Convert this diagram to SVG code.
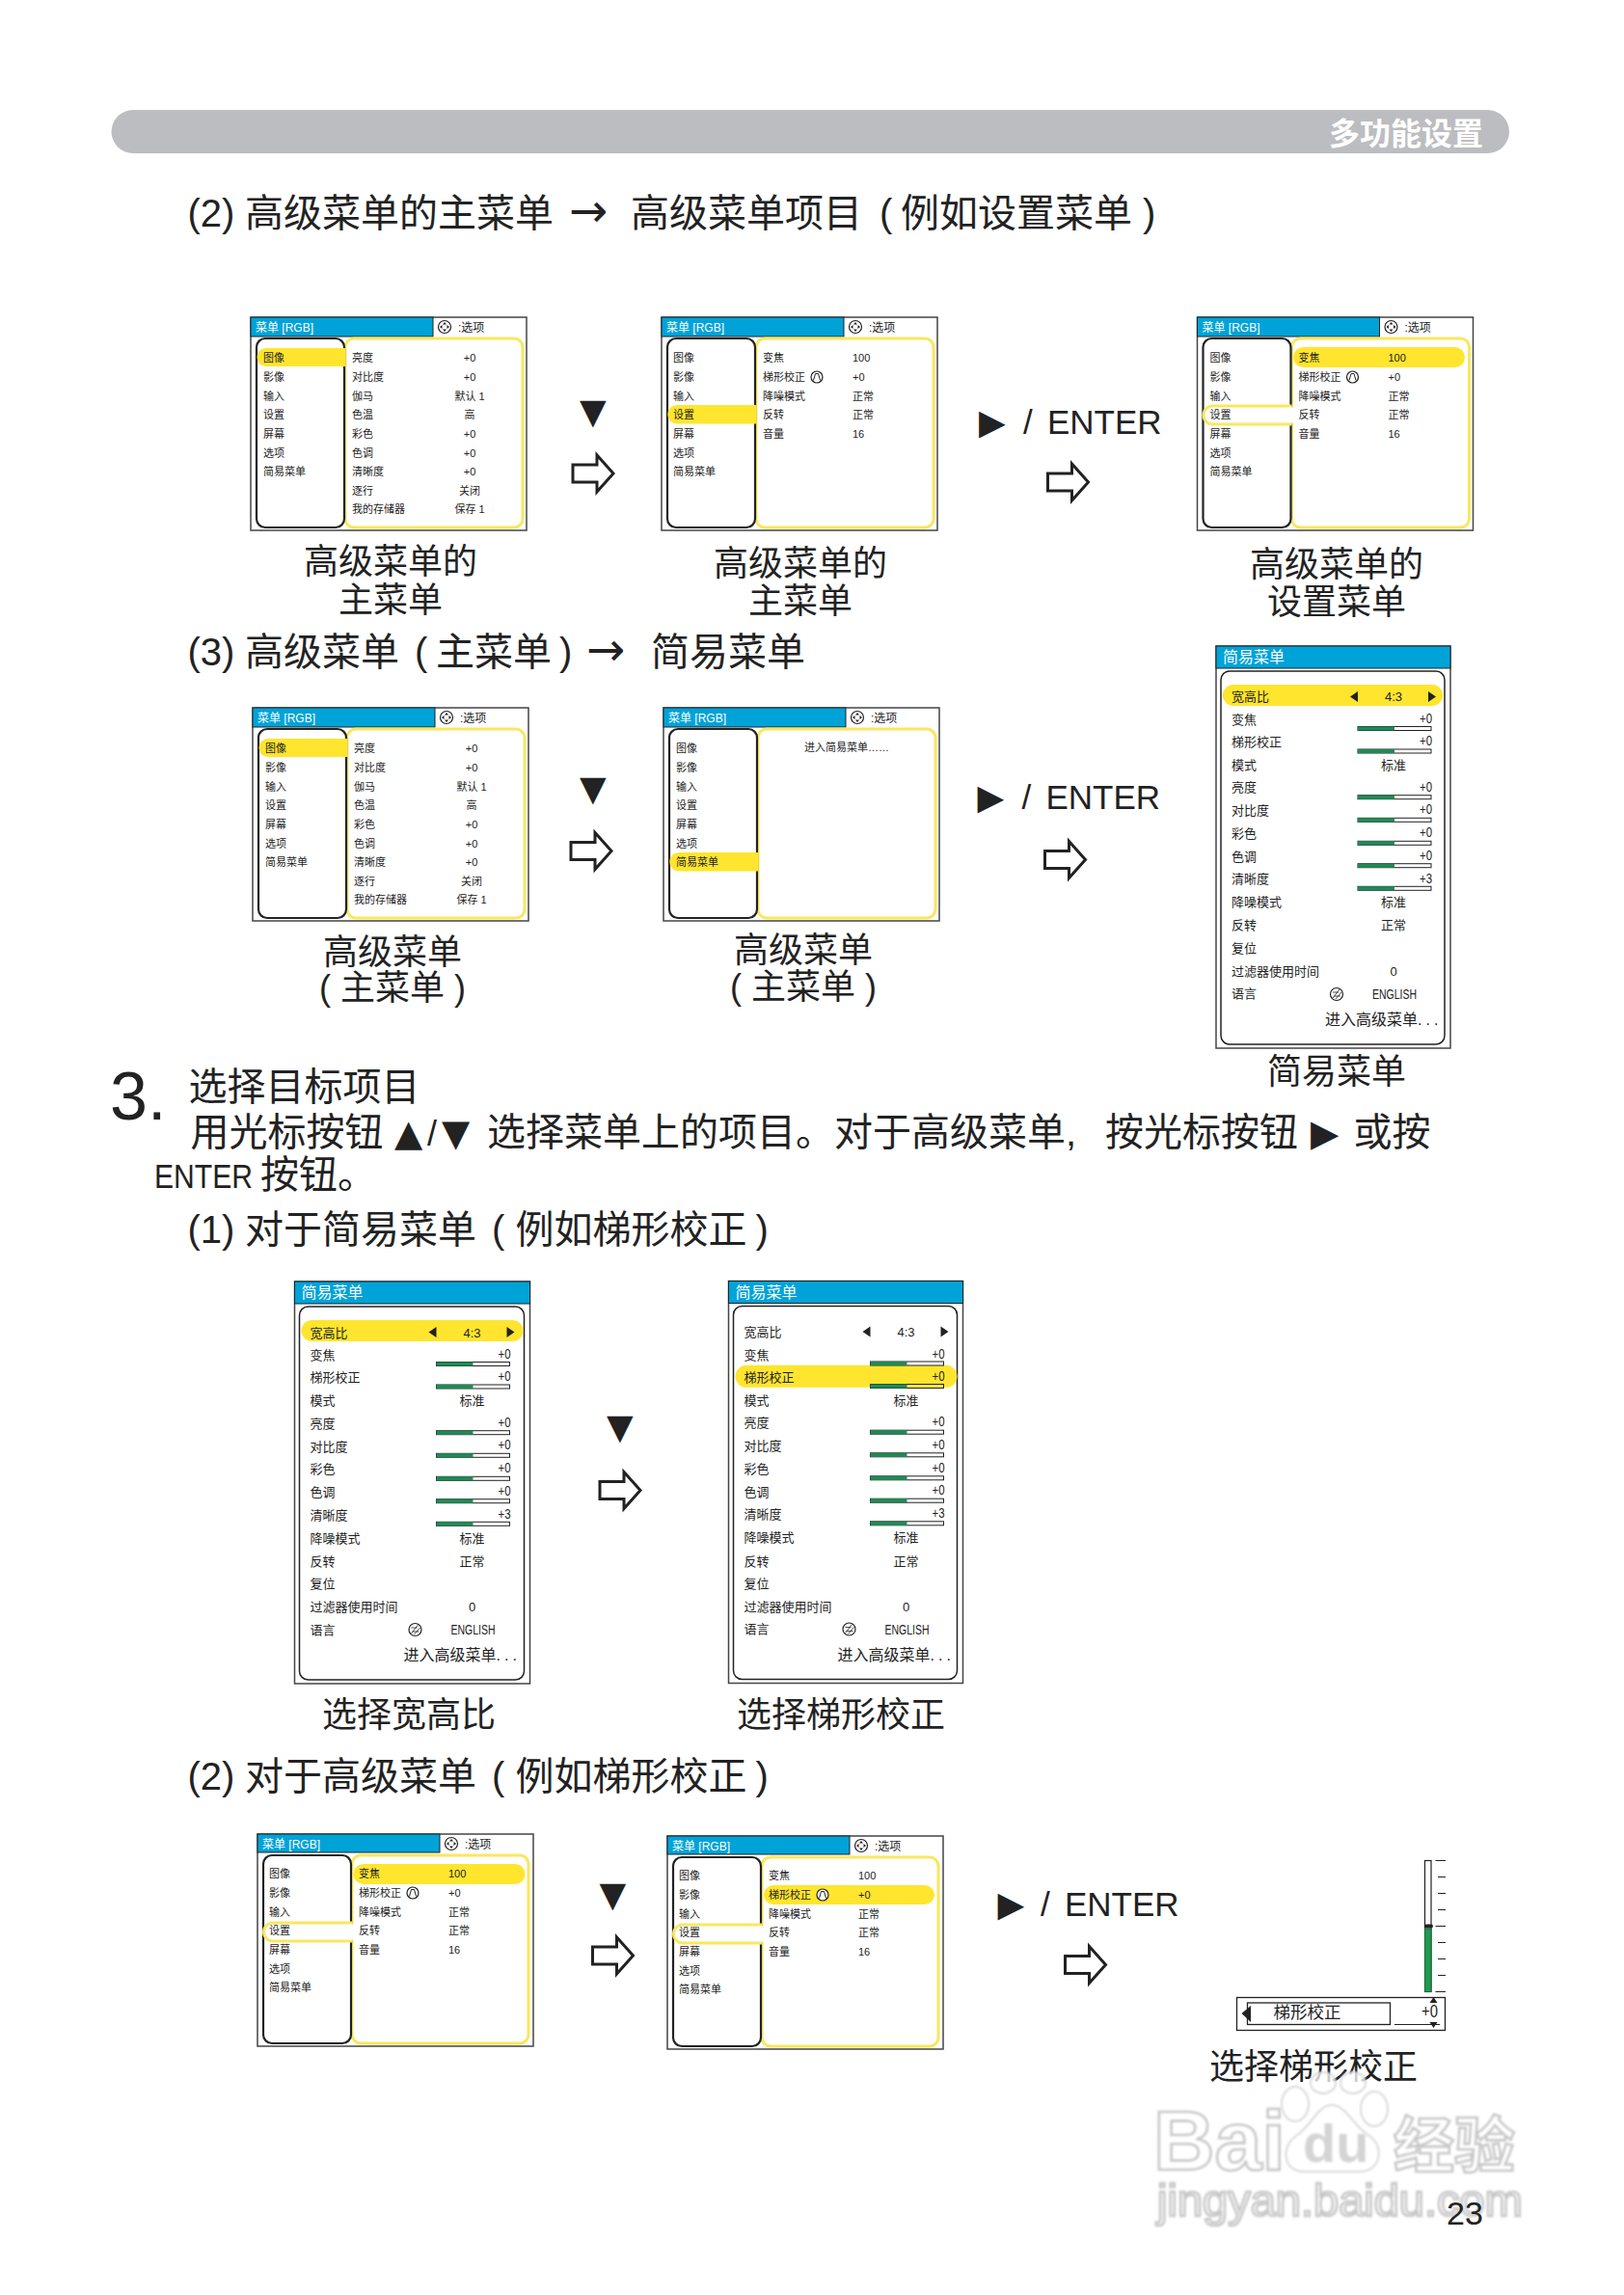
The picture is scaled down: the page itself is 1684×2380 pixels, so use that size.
<svg xmlns="http://www.w3.org/2000/svg" width="1684" height="2380" viewBox="0 0 1684 2380">
<style>
text{font-family:"Liberation Sans","Noto Sans CJK SC",sans-serif;fill:#222}
.h{font-size:40px}.c{font-size:36px;text-anchor:middle}
.s{font-family:"DejaVu Sans",sans-serif}
.t{font-size:12px;fill:#fff}.o{font-size:12px}
.i{font-size:11px}.v{font-size:11px;text-anchor:middle}
.q{font-size:13px}.r{font-size:13px;text-anchor:middle}.n{font-size:14px}
.bg{fill:#fff;stroke:#444;stroke-width:1.5}.tb{fill:#00a3d8;stroke:#222;stroke-width:1}
.lp{fill:#fff;stroke:#222;stroke-width:2.2}.rp{fill:#fff;stroke:#f9e75f;stroke-width:3}
.hl{fill:#ffe52e}.ol{fill:#fff;stroke:#f9e75f;stroke-width:3}
.sl{fill:#fff;stroke:#222;stroke-width:1}.gr{fill:#1f8a56}
.wm{fill:#fff;stroke:#c8c8c8;stroke-width:2.6;filter:url(#bl);font-weight:700}
</style>
<defs>
<path id="arrow" d="M2,12H27V2L44,21L27,40V30H2Z" fill="#fff" stroke="#222" stroke-width="3"/>
<g id="dpad"><circle r="6.5" fill="#fff" stroke="#222" stroke-width="1.2"/><path d="M0,-5L2,-2.5H-2ZM0,5L2,2.5H-2ZM-5,0L-2.5,-2V2ZM5,0L2.5,-2V2Z" fill="#222"/></g>
<g id="key"><circle r="6" fill="#fff" stroke="#222" stroke-width="1.2"/><path d="M-1.5,-3.5H1.5L3.5,3.5M-1.5,-3.5L-3.5,3.5" fill="none" stroke="#222"/></g>
<g id="globe"><circle r="6.5" fill="#fff" stroke="#222" stroke-width="1.2"/><path d="M-4,4L3,-5M-1,5L5,-2M-4,-2H2M-3,2H4" fill="none" stroke="#222" stroke-width=".8"/></g>
<filter id="bl" x="-5%" y="-5%" width="110%" height="110%"><feGaussianBlur stdDeviation="1"/></filter>
</defs>

<g id="header"><rect x="115.500" y="114" width="1449.500" height="45" rx="22.500" fill="#bcbdc0"/>
<text x="1378" y="150" font-size="32" font-weight="700" style="fill:#fff">多功能设置</text></g>

<text id="h2" class="h" y="235"><tspan x="194.500">(2)</tspan><tspan x="254">高级菜单的主菜单</tspan><tspan class="s" x="590" font-size="48">→</tspan><tspan x="654">高级菜单项目</tspan><tspan x="912">(</tspan><tspan x="934">例如设置菜单</tspan><tspan x="1185">)</tspan></text>

<g id="m1" transform="translate(260,329)">
<rect class="bg" width="286" height="221"/><rect class="tb" width="189" height="20"/>
<rect class="rp" x="98" y="22" width="184" height="196" rx="9"/><rect class="lp" x="6" y="22" width="91" height="196" rx="9"/>
<path class="hl" d="M16,32H98V51H16A9.500,9.500 0 0 1 16,32Z"/>
<text class="t" x="5" y="14.500">菜单 [RGB]</text><use href="#dpad" x="201" y="10"/><text class="o" x="215" y="14.500">:选项</text>
<text class="i" x="13" y="45.500">图像</text><text class="i" x="13" y="65.500">影像</text><text class="i" x="13" y="85.500">输入</text><text class="i" x="13" y="105">设置</text><text class="i" x="13" y="125">屏幕</text><text class="i" x="13" y="144.500">选项</text><text class="i" x="13" y="164">简易菜单</text>
<text class="i" x="105" y="45.500">亮度</text><text class="i" x="105" y="65.500">对比度</text><text class="i" x="105" y="85.500">伽马</text><text class="i" x="105" y="105">色温</text><text class="i" x="105" y="125">彩色</text><text class="i" x="105" y="144.500">色调</text><text class="i" x="105" y="164">清晰度</text><text class="i" x="105" y="184">逐行</text><text class="i" x="105" y="203">我的存储器</text>
<text class="v" x="227" y="45.500">+0</text><text class="v" x="227" y="65.500">+0</text><text class="v" x="227" y="85.500">默认 1</text><text class="v" x="227" y="105">高</text><text class="v" x="227" y="125">+0</text><text class="v" x="227" y="144.500">+0</text><text class="v" x="227" y="164">+0</text><text class="v" x="227" y="184">关闭</text><text class="v" x="227" y="203">保存 1</text>
</g>
<g id="m1c"><text class="c" x="405" y="594.500">高级菜单的</text><text class="c" x="405" y="634.500">主菜单</text></g>

<g id="m2" transform="translate(686,329)">
<rect class="bg" width="286" height="221"/><rect class="tb" width="189" height="20"/>
<rect class="rp" x="98" y="22" width="184" height="196" rx="9"/><rect class="lp" x="6" y="22" width="91" height="196" rx="9"/>
<path class="hl" d="M16,91H98V110.500H16A9.750,9.750 0 0 1 16,91Z"/>
<text class="t" x="5" y="14.500">菜单 [RGB]</text><use href="#dpad" x="201" y="10"/><text class="o" x="215" y="14.500">:选项</text>
<text class="i" x="12" y="45.500">图像</text><text class="i" x="12" y="65.500">影像</text><text class="i" x="12" y="85.500">输入</text><text class="i" x="12" y="105">设置</text><text class="i" x="12" y="125">屏幕</text><text class="i" x="12" y="144.500">选项</text><text class="i" x="12" y="164">简易菜单</text>
<text class="i" x="105" y="45.500">变焦</text><text class="i" x="105" y="65.500">梯形校正</text><use href="#key" x="161" y="62"/><text class="i" x="105" y="85.500">降噪模式</text><text class="i" x="105" y="105">反转</text><text class="i" x="105" y="125">音量</text>
<text class="i" x="198" y="45.500">100</text><text class="i" x="198" y="65.500">+0</text><text class="i" x="198" y="85.500">正常</text><text class="i" x="198" y="105">正常</text><text class="i" x="198" y="125">16</text>
</g>
<g id="m2c"><text class="c" x="830" y="596.500">高级菜单的</text><text class="c" x="830" y="635.500">主菜单</text></g>

<g id="m3" transform="translate(1241.500,329)">
<rect class="bg" width="286" height="221"/><rect class="tb" width="189" height="20"/>
<rect class="rp" x="98" y="22" width="184" height="196" rx="9"/><rect class="lp" x="6" y="22" width="91" height="196" rx="9"/>
<path class="ol" d="M98,92H16A9.500,9.500 0 0 0 16,111H98"/><rect x="95" y="93.500" width="5" height="16" fill="#fff"/>
<path class="hl" d="M110,31H267A10.500,10.500 0 0 1 267,52H110A10.500,10.500 0 0 1 110,31Z"/>
<text class="t" x="5" y="14.500">菜单 [RGB]</text><use href="#dpad" x="201" y="10"/><text class="o" x="215" y="14.500">:选项</text>
<text class="i" x="13" y="45.500">图像</text><text class="i" x="13" y="65.500">影像</text><text class="i" x="13" y="85.500">输入</text><text class="i" x="13" y="105">设置</text><text class="i" x="13" y="125">屏幕</text><text class="i" x="13" y="144.500">选项</text><text class="i" x="13" y="164">简易菜单</text>
<text class="i" x="105" y="45.500">变焦</text><text class="i" x="105" y="65.500">梯形校正</text><use href="#key" x="161" y="62"/><text class="i" x="105" y="85.500">降噪模式</text><text class="i" x="105" y="105">反转</text><text class="i" x="105" y="125">音量</text>
<text class="i" x="198" y="45.500">100</text><text class="i" x="198" y="65.500">+0</text><text class="i" x="198" y="85.500">正常</text><text class="i" x="198" y="105">正常</text><text class="i" x="198" y="125">16</text>
</g>
<g id="m3c"><text class="c" x="1386" y="597.500">高级菜单的</text><text class="c" x="1386" y="636.500">设置菜单</text></g>

<text id="h3" class="h" y="689.500"><tspan x="194.500">(3)</tspan><tspan x="254">高级菜单</tspan><tspan x="430">(</tspan><tspan x="452">主菜单</tspan><tspan x="580">)</tspan><tspan class="s" x="608" font-size="48">→</tspan><tspan x="675">简易菜单</tspan></text>

<g id="m4" transform="translate(262,734)">
<rect class="bg" width="286" height="221"/><rect class="tb" width="189" height="20"/>
<rect class="rp" x="98" y="22" width="184" height="196" rx="9"/><rect class="lp" x="6" y="22" width="91" height="196" rx="9"/>
<path class="hl" d="M16,32H98V51H16A9.500,9.500 0 0 1 16,32Z"/>
<text class="t" x="5" y="14.500">菜单 [RGB]</text><use href="#dpad" x="201" y="10"/><text class="o" x="215" y="14.500">:选项</text>
<text class="i" x="13" y="45.500">图像</text><text class="i" x="13" y="65.500">影像</text><text class="i" x="13" y="85.500">输入</text><text class="i" x="13" y="105">设置</text><text class="i" x="13" y="125">屏幕</text><text class="i" x="13" y="144.500">选项</text><text class="i" x="13" y="164">简易菜单</text>
<text class="i" x="105" y="45.500">亮度</text><text class="i" x="105" y="65.500">对比度</text><text class="i" x="105" y="85.500">伽马</text><text class="i" x="105" y="105">色温</text><text class="i" x="105" y="125">彩色</text><text class="i" x="105" y="144.500">色调</text><text class="i" x="105" y="164">清晰度</text><text class="i" x="105" y="184">逐行</text><text class="i" x="105" y="203">我的存储器</text>
<text class="v" x="227" y="45.500">+0</text><text class="v" x="227" y="65.500">+0</text><text class="v" x="227" y="85.500">默认 1</text><text class="v" x="227" y="105">高</text><text class="v" x="227" y="125">+0</text><text class="v" x="227" y="144.500">+0</text><text class="v" x="227" y="164">+0</text><text class="v" x="227" y="184">关闭</text><text class="v" x="227" y="203">保存 1</text>
</g>
<g id="m4c"><text class="c" x="407" y="999.500">高级菜单</text><text class="c" x="407" y="1037">( 主菜单 )</text></g>

<g id="m5" transform="translate(688,734)">
<rect class="bg" width="286" height="221"/><rect class="tb" width="189" height="20"/>
<rect class="rp" x="98" y="22" width="184" height="196" rx="9"/><rect class="lp" x="6" y="22" width="91" height="196" rx="9"/>
<path class="hl" d="M16,150H98V169.500H16A9.750,9.750 0 0 1 16,150Z"/>
<text class="t" x="5" y="14.500">菜单 [RGB]</text><use href="#dpad" x="201" y="10"/><text class="o" x="215" y="14.500">:选项</text>
<text class="i" x="13" y="45.500">图像</text><text class="i" x="13" y="65.500">影像</text><text class="i" x="13" y="85.500">输入</text><text class="i" x="13" y="105">设置</text><text class="i" x="13" y="125">屏幕</text><text class="i" x="13" y="144.500">选项</text><text class="i" x="13" y="164">简易菜单</text>
<text class="i" x="146" y="45">进入简易菜单……</text>
</g>
<g id="m5c"><text class="c" x="833" y="997.500">高级菜单</text><text class="c" x="833" y="1036">( 主菜单 )</text></g>

<g id="s1" transform="translate(1261,670)">
<rect class="bg" width="243" height="417"/><rect class="tb" width="243" height="23"/>
<text x="7" y="17" font-size="16" style="fill:#fff">简易菜单</text>
<rect x="5" y="26" width="232" height="387" rx="9" fill="#fff" stroke="#222" stroke-width="1.5"/>
<rect class="hl" x="7" y="40" width="228" height="22" rx="11"/>
<text class="q" x="16" y="56.500">宽高比</text><path d="M139,52.500L147,47V58ZM228,52.500L220,47V58Z" fill="#222"/><text class="r" x="184" y="56.500">4:3</text>
<text class="q" x="16" y="80.500">变焦</text><text class="n" x="211" y="80" textLength="13" lengthAdjust="spacingAndGlyphs">+0</text><rect class="sl" x="147" y="83.500" width="76" height="4"/><rect class="gr" x="147" y="83.500" width="38" height="4"/>
<text class="q" x="16" y="104">梯形校正</text><text class="n" x="211" y="103" textLength="13" lengthAdjust="spacingAndGlyphs">+0</text><rect class="sl" x="147" y="107" width="76" height="4"/><rect class="gr" x="147" y="107" width="38" height="4"/>
<text class="q" x="16" y="127.500">模式</text><text class="r" x="184" y="127.500">标准</text>
<text class="q" x="16" y="151">亮度</text><text class="n" x="211" y="150.700" textLength="13" lengthAdjust="spacingAndGlyphs">+0</text><rect class="sl" x="147" y="154.700" width="76" height="4"/><rect class="gr" x="147" y="154.700" width="38" height="4"/>
<text class="q" x="16" y="175">对比度</text><text class="n" x="211" y="174.300" textLength="13" lengthAdjust="spacingAndGlyphs">+0</text><rect class="sl" x="147" y="178.300" width="76" height="4"/><rect class="gr" x="147" y="178.300" width="38" height="4"/>
<text class="q" x="16" y="198.500">彩色</text><text class="n" x="211" y="198.300" textLength="13" lengthAdjust="spacingAndGlyphs">+0</text><rect class="sl" x="147" y="202.300" width="76" height="4"/><rect class="gr" x="147" y="202.300" width="38" height="4"/>
<text class="q" x="16" y="222.500">色调</text><text class="n" x="211" y="221.700" textLength="13" lengthAdjust="spacingAndGlyphs">+0</text><rect class="sl" x="147" y="225.700" width="76" height="4"/><rect class="gr" x="147" y="225.700" width="38" height="4"/>
<text class="q" x="16" y="246">清晰度</text><text class="n" x="211" y="245.700" textLength="13" lengthAdjust="spacingAndGlyphs">+3</text><rect class="sl" x="147" y="249.300" width="76" height="4"/><rect class="gr" x="147" y="249.300" width="38" height="4"/>
<text class="q" x="16" y="270">降噪模式</text><text class="r" x="184" y="270">标准</text>
<text class="q" x="16" y="294">反转</text><text class="r" x="184" y="294">正常</text>
<text class="q" x="16" y="317.500">复位</text>
<text class="q" x="16" y="341.500">过滤器使用时间</text><text class="r" x="184" y="341.500">0</text>
<text class="q" x="16" y="365">语言</text><use href="#globe" x="125" y="361"/><text class="n" x="162" y="366" textLength="46" lengthAdjust="spacingAndGlyphs">ENGLISH</text>
<text x="113" y="393" font-size="16">进入高级菜单<tspan letter-spacing="4">...</tspan></text>
</g>
<g id="s1c"><text class="c" x="1386" y="1124">简易菜单</text></g>

<g id="sec3">
<text x="114" y="1160.500" font-size="70">3.</text>
<text class="h" x="195.500" y="1140.500">选择目标项目</text>
<text class="h" y="1188"><tspan x="197.500">用光标按钮</tspan><tspan class="s" x="409" font-size="38">▲</tspan><tspan x="443" font-size="36">/</tspan><tspan class="s" x="458" font-size="38">▼</tspan><tspan x="505">选择菜单上的项目。</tspan><tspan x="865">对于高级菜单,</tspan><tspan x="1146">按光标按钮</tspan><tspan class="s" x="1359" font-size="38">▶</tspan><tspan x="1403.500">或按</tspan></text>
<text y="1232"><tspan x="160" font-size="35" textLength="102" lengthAdjust="spacingAndGlyphs">ENTER</tspan><tspan x="270" font-size="40">按钮。</tspan></text>
<text class="h" y="1289"><tspan x="194.500">(1)</tspan><tspan x="254">对于简易菜单</tspan><tspan x="510">(</tspan><tspan x="534.500">例如梯形校正</tspan><tspan x="783.500">)</tspan></text>
</g>

<g id="s2" transform="translate(305.500,1329)">
<rect class="bg" width="244" height="417"/><rect class="tb" width="244" height="23"/>
<text x="7" y="17" font-size="16" style="fill:#fff">简易菜单</text>
<rect x="5" y="26" width="233" height="387" rx="9" fill="#fff" stroke="#222" stroke-width="1.5"/>
<rect class="hl" x="7" y="40" width="230" height="22" rx="11"/>
<text class="q" x="16" y="57.700">宽高比</text><path d="M139,52.500L147,47V58ZM228,52.500L220,47V58Z" fill="#222"/><text class="r" x="184" y="57.700">4:3</text>
<text class="q" x="16" y="81">变焦</text><text class="n" x="211" y="80" textLength="13" lengthAdjust="spacingAndGlyphs">+0</text><rect class="sl" x="147" y="83.500" width="76" height="4"/><rect class="gr" x="147" y="83.500" width="38" height="4"/>
<text class="q" x="16" y="104.300">梯形校正</text><text class="n" x="211" y="103" textLength="13" lengthAdjust="spacingAndGlyphs">+0</text><rect class="sl" x="147" y="107" width="76" height="4"/><rect class="gr" x="147" y="107" width="38" height="4"/>
<text class="q" x="16" y="128.300">模式</text><text class="r" x="184" y="128.300">标准</text>
<text class="q" x="16" y="151.700">亮度</text><text class="n" x="211" y="150.700" textLength="13" lengthAdjust="spacingAndGlyphs">+0</text><rect class="sl" x="147" y="154.700" width="76" height="4"/><rect class="gr" x="147" y="154.700" width="38" height="4"/>
<text class="q" x="16" y="175.700">对比度</text><text class="n" x="211" y="174.300" textLength="13" lengthAdjust="spacingAndGlyphs">+0</text><rect class="sl" x="147" y="178.300" width="76" height="4"/><rect class="gr" x="147" y="178.300" width="38" height="4"/>
<text class="q" x="16" y="199">彩色</text><text class="n" x="211" y="198.300" textLength="13" lengthAdjust="spacingAndGlyphs">+0</text><rect class="sl" x="147" y="202.300" width="76" height="4"/><rect class="gr" x="147" y="202.300" width="38" height="4"/>
<text class="q" x="16" y="223">色调</text><text class="n" x="211" y="221.700" textLength="13" lengthAdjust="spacingAndGlyphs">+0</text><rect class="sl" x="147" y="225.700" width="76" height="4"/><rect class="gr" x="147" y="225.700" width="38" height="4"/>
<text class="q" x="16" y="246.700">清晰度</text><text class="n" x="211" y="245.700" textLength="13" lengthAdjust="spacingAndGlyphs">+3</text><rect class="sl" x="147" y="249.300" width="76" height="4"/><rect class="gr" x="147" y="249.300" width="38" height="4"/>
<text class="q" x="16" y="270.700">降噪模式</text><text class="r" x="184" y="270.700">标准</text>
<text class="q" x="16" y="295">反转</text><text class="r" x="184" y="295">正常</text>
<text class="q" x="16" y="318.300">复位</text>
<text class="q" x="16" y="342.300">过滤器使用时间</text><text class="r" x="184" y="342.300">0</text>
<text class="q" x="16" y="365.700">语言</text><use href="#globe" x="125" y="361"/><text class="n" x="162" y="366" textLength="46" lengthAdjust="spacingAndGlyphs">ENGLISH</text>
<text x="113" y="393" font-size="16">进入高级菜单<tspan letter-spacing="4">...</tspan></text>
</g>
<g id="s2c"><text class="c" x="424" y="1790.500">选择宽高比</text></g>

<g id="s3" transform="translate(755.500,1328.500)">
<rect class="bg" width="243" height="417"/><rect class="tb" width="243" height="23"/>
<text x="7" y="17" font-size="16" style="fill:#fff">简易菜单</text>
<rect x="5" y="26" width="232" height="387" rx="9" fill="#fff" stroke="#222" stroke-width="1.5"/>
<rect class="hl" x="7" y="87.300" width="230" height="23" rx="11.500"/>
<text class="q" x="16" y="57.700">宽高比</text><path d="M139,52.500L147,47V58ZM228,52.500L220,47V58Z" fill="#222"/><text class="r" x="184" y="57.700">4:3</text>
<text class="q" x="16" y="81">变焦</text><text class="n" x="211" y="80" textLength="13" lengthAdjust="spacingAndGlyphs">+0</text><rect class="sl" x="147" y="83.500" width="76" height="4"/><rect class="gr" x="147" y="83.500" width="38" height="4"/>
<text class="q" x="16" y="104.300">梯形校正</text><text class="n" x="211" y="103" textLength="13" lengthAdjust="spacingAndGlyphs">+0</text><rect class="sl" style="fill:#ffe52e" x="147" y="107" width="76" height="4"/><rect class="gr" x="147" y="107" width="38" height="4"/>
<text class="q" x="16" y="128.300">模式</text><text class="r" x="184" y="128.300">标准</text>
<text class="q" x="16" y="151.700">亮度</text><text class="n" x="211" y="150.700" textLength="13" lengthAdjust="spacingAndGlyphs">+0</text><rect class="sl" x="147" y="154.700" width="76" height="4"/><rect class="gr" x="147" y="154.700" width="38" height="4"/>
<text class="q" x="16" y="175.700">对比度</text><text class="n" x="211" y="174.300" textLength="13" lengthAdjust="spacingAndGlyphs">+0</text><rect class="sl" x="147" y="178.300" width="76" height="4"/><rect class="gr" x="147" y="178.300" width="38" height="4"/>
<text class="q" x="16" y="199">彩色</text><text class="n" x="211" y="198.300" textLength="13" lengthAdjust="spacingAndGlyphs">+0</text><rect class="sl" x="147" y="202.300" width="76" height="4"/><rect class="gr" x="147" y="202.300" width="38" height="4"/>
<text class="q" x="16" y="223">色调</text><text class="n" x="211" y="221.700" textLength="13" lengthAdjust="spacingAndGlyphs">+0</text><rect class="sl" x="147" y="225.700" width="76" height="4"/><rect class="gr" x="147" y="225.700" width="38" height="4"/>
<text class="q" x="16" y="246.700">清晰度</text><text class="n" x="211" y="245.700" textLength="13" lengthAdjust="spacingAndGlyphs">+3</text><rect class="sl" x="147" y="249.300" width="76" height="4"/><rect class="gr" x="147" y="249.300" width="38" height="4"/>
<text class="q" x="16" y="270.700">降噪模式</text><text class="r" x="184" y="270.700">标准</text>
<text class="q" x="16" y="295">反转</text><text class="r" x="184" y="295">正常</text>
<text class="q" x="16" y="318.300">复位</text>
<text class="q" x="16" y="342.300">过滤器使用时间</text><text class="r" x="184" y="342.300">0</text>
<text class="q" x="16" y="365.700">语言</text><use href="#globe" x="125" y="361"/><text class="n" x="162" y="366" textLength="46" lengthAdjust="spacingAndGlyphs">ENGLISH</text>
<text x="113" y="393" font-size="16">进入高级菜单<tspan letter-spacing="4">...</tspan></text>
</g>
<g id="s3c"><text class="c" x="872" y="1790.500">选择梯形校正</text></g>

<text id="h4" class="h" y="1855.500"><tspan x="194.500">(2)</tspan><tspan x="254">对于高级菜单</tspan><tspan x="510">(</tspan><tspan x="534.500">例如梯形校正</tspan><tspan x="783.500">)</tspan></text>

<g id="m6" transform="translate(267,1902)">
<rect class="bg" width="286" height="220"/><rect class="tb" width="189" height="19"/>
<rect class="rp" x="98" y="22" width="183" height="195" rx="9"/><rect class="lp" x="6" y="22" width="91" height="195" rx="9"/>
<path class="ol" d="M98,92H16A9.500,9.500 0 0 0 16,111H98"/><rect x="95" y="93.500" width="5" height="16" fill="#fff"/>
<path class="hl" d="M110,31H267A10.500,10.500 0 0 1 267,52H110A10.500,10.500 0 0 1 110,31Z"/>
<text class="t" x="5" y="14.500">菜单 [RGB]</text><use href="#dpad" x="201" y="10"/><text class="o" x="215" y="14.500">:选项</text>
<text class="i" x="12" y="44.500">图像</text><text class="i" x="12" y="64.500">影像</text><text class="i" x="12" y="84.500">输入</text><text class="i" x="12" y="104">设置</text><text class="i" x="12" y="124">屏幕</text><text class="i" x="12" y="143.500">选项</text><text class="i" x="12" y="163">简易菜单</text>
<text class="i" x="105" y="44.500">变焦</text><text class="i" x="105" y="64.500">梯形校正</text><use href="#key" x="161" y="61"/><text class="i" x="105" y="84.500">降噪模式</text><text class="i" x="105" y="104">反转</text><text class="i" x="105" y="124">音量</text>
<text class="i" x="198" y="44.500">100</text><text class="i" x="198" y="64.500">+0</text><text class="i" x="198" y="84.500">正常</text><text class="i" x="198" y="104">正常</text><text class="i" x="198" y="124">16</text>
</g>

<g id="m7" transform="translate(692,1904)">
<rect class="bg" width="286" height="221"/><rect class="tb" width="189" height="19"/>
<rect class="rp" x="98" y="22" width="183" height="196" rx="9"/><rect class="lp" x="6" y="22" width="91" height="196" rx="9"/>
<path class="ol" d="M98,92H16A9.500,9.500 0 0 0 16,111H98"/><rect x="95" y="93.500" width="5" height="16" fill="#fff"/>
<path class="hl" d="M110,51H267A10,10 0 0 1 267,71H110A10,10 0 0 1 110,51Z"/>
<text class="t" x="5" y="14.500">菜单 [RGB]</text><use href="#dpad" x="201" y="10"/><text class="o" x="215" y="14.500">:选项</text>
<text class="i" x="12" y="44.500">图像</text><text class="i" x="12" y="64.500">影像</text><text class="i" x="12" y="84.500">输入</text><text class="i" x="12" y="104">设置</text><text class="i" x="12" y="124">屏幕</text><text class="i" x="12" y="143.500">选项</text><text class="i" x="12" y="163">简易菜单</text>
<text class="i" x="105" y="44.500">变焦</text><text class="i" x="105" y="64.500">梯形校正</text><use href="#key" x="161" y="61"/><text class="i" x="105" y="84.500">降噪模式</text><text class="i" x="105" y="104">反转</text><text class="i" x="105" y="124">音量</text>
<text class="i" x="198" y="44.500">100</text><text class="i" x="198" y="64.500">+0</text><text class="i" x="198" y="84.500">正常</text><text class="i" x="198" y="104">正常</text><text class="i" x="198" y="124">16</text>
</g>

<g id="keystone">
<rect x="1477.500" y="1929.500" width="6.500" height="136" fill="#fff" stroke="#222" stroke-width="1.2"/><rect x="1477.500" y="2000" width="6.500" height="65.500" fill="#1f9a52" stroke="#1f6a40" stroke-width="1"/>
<rect x="1477" y="1995.500" width="9" height="4" rx="2" fill="#222"/>
<path d="M1488.500,1929.500H1499M1491,1946.500H1499M1491,1963.500H1499M1491,1980.500H1499M1488.500,1997.500H1499M1491,2014.500H1499M1491,2031.500H1499M1491,2048.500H1499M1488.500,2065.500H1499" stroke="#222" stroke-width="1.200" fill="none"/>
<rect x="1282.500" y="2071.500" width="216" height="34" fill="#fff" stroke="#222" stroke-width="1.300"/>
<rect x="1293.500" y="2077" width="148" height="22.500" fill="#fff" stroke="#222" stroke-width="1.300"/>
<path d="M1287.500,2088L1297,2080V2097Z" fill="#222"/>
<text x="1320.500" y="2093" font-size="17.500">梯形校正</text>
<text x="1474" y="2092" font-size="19" textLength="17" lengthAdjust="spacingAndGlyphs">+0</text>
<path d="M1446,2099.500H1493" stroke="#222" fill="none"/><path d="M1486.500,2071L1490.500,2077H1482.500ZM1486.500,2103L1490.500,2097H1482.500Z" fill="#222"/>
</g>
<g id="s4c"><text class="c" x="1362" y="2156">选择梯形校正</text></g>

<g id="connectors">
<text class="s" x="601" y="438.500" font-size="36">▼</text><use href="#arrow" x="592" y="470"/>
<text y="449.500"><tspan class="s" x="1015" font-size="36">▶</tspan><tspan x="1061" font-size="35">/</tspan><tspan x="1086" font-size="35">ENTER</tspan></text><use href="#arrow" x="1084.500" y="479"/>
<text class="s" x="601" y="830" font-size="36">▼</text><use href="#arrow" x="590" y="861.500"/>
<text y="839"><tspan class="s" x="1013.500" font-size="36">▶</tspan><tspan x="1059.500" font-size="35">/</tspan><tspan x="1084.500" font-size="35">ENTER</tspan></text><use href="#arrow" x="1081.500" y="870.500"/>
<text class="s" x="629" y="1491.500" font-size="36">▼</text><use href="#arrow" x="620" y="1524.500"/>
<text class="s" x="621.500" y="1976.500" font-size="36">▼</text><use href="#arrow" x="612.500" y="2007"/>
<text y="1987"><tspan class="s" x="1034.500" font-size="36">▶</tspan><tspan x="1079" font-size="35">/</tspan><tspan x="1104" font-size="35">ENTER</tspan></text><use href="#arrow" x="1102.500" y="2016.500"/>
</g>

<g id="watermark">
<text class="wm" x="1196" y="2250" font-size="88">Bai</text>
<ellipse cx="1343" cy="2182" rx="14" ry="18" fill="#fff" stroke="#d8d8d8" stroke-width="2" filter="url(#bl)"/>
<ellipse cx="1372" cy="2160" rx="13" ry="11" fill="#fff" fill-opacity=".75" stroke="#d8d8d8" stroke-width="2" filter="url(#bl)"/>
<ellipse cx="1403" cy="2160" rx="13" ry="11" fill="#fff" fill-opacity=".75" stroke="#d8d8d8" stroke-width="2" filter="url(#bl)"/>
<ellipse cx="1425" cy="2187" rx="14" ry="18" fill="#fff" stroke="#d8d8d8" stroke-width="2" filter="url(#bl)"/>
<path d="M1381,2183C1396,2183 1403,2205 1420,2215C1436,2226 1432,2252 1410,2252H1352C1330,2252 1328,2226 1344,2215C1360,2205 1366,2183 1381,2183Z" fill="#fff" stroke="#d8d8d8" stroke-width="2" filter="url(#bl)"/>
<text x="1351" y="2242" font-size="56" font-weight="700" style="fill:#d4d4d4;filter:url(#bl)">du</text>
<text class="wm" x="1445" y="2247" font-size="63">经验</text>
<text class="wm" style="font-weight:400" x="1200" y="2298" font-size="47">jingyan.baidu.com</text>
</g>
<text id="page" x="1500" y="2307" font-size="34">23</text>
</svg>
